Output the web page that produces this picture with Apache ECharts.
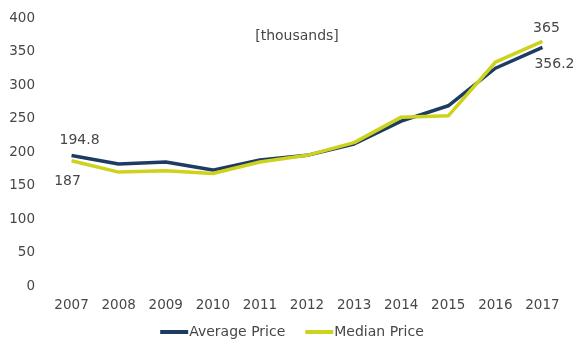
<!DOCTYPE html>
<html><head><meta charset="utf-8">
<script src="https://cdn.jsdelivr.net/npm/echarts@6/dist/echarts.min.js"></script>
<style>html,body{margin:0;padding:0;background:#fff}#c{width:584px;height:342px}</style>
</head><body><div id="c"></div>
<script>
const years = ['2007','2008','2009','2010','2011','2012','2013','2014','2015','2016','2017'];
const averagePrice = [194.8,182,185,173,188,195,212,246,269,325,356.2];
const medianPrice = [187,170,172,168,185,195,214,252,254,334,365];
const yTicks = [0,50,100,150,200,250,300,350,400];

const font = 'DejaVu Sans';
const txt = '#474747';
function mk(arr, first, last){
  return arr.map((v,i)=>{
    const cfg = i===0?first:(i===arr.length-1?last:null);
    if(cfg){
      return {value:v,label:{show:true,position:cfg.pos,formatter:String(v),color:txt,fontSize:14,fontFamily:font,
        distance:cfg.d,offset:cfg.off}};
    }
    return v;
  });
}
const chart = echarts.init(document.getElementById('c'));
chart.setOption({
  animation:false,
  title:{text:'[thousands]',left:292,top:24,textAlign:'center',textStyle:{fontSize:14,fontWeight:'normal',color:txt,fontFamily:font}},
  grid:{left:48,right:18,top:18,bottom:56},
  legend:{top:320,left:'center',icon:'rect',itemWidth:28,itemHeight:4,itemGap:20,
    textStyle:{fontSize:14,color:txt,fontFamily:font,padding:[0,0,0,-4]},
    data:['Average Price','Median Price']},
  xAxis:{type:'category',data:years,boundaryGap:true,
    axisLine:{show:false},axisTick:{show:false},
    axisLabel:{color:txt,fontSize:13.5,fontFamily:font,margin:12}},
  yAxis:{type:'value',min:0,max:400,interval:50,
    splitLine:{show:false},axisLine:{show:false},axisTick:{show:false},
    axisLabel:{color:txt,fontSize:13.5,fontFamily:font,margin:13,
      formatter:v=>yTicks.includes(v)?String(v):''}},
  series:[
    {name:'Average Price',type:'line',data:mk(averagePrice,{pos:'top',d:8,off:[8,0]},{pos:'bottom',d:8,off:[12,2]}),
      symbol:'circle',symbolSize:0.1,showSymbol:true,
      lineStyle:{width:3.5,color:'#1d3c63'},itemStyle:{color:'#1d3c63'}},
    {name:'Median Price',type:'line',data:mk(medianPrice,{pos:'bottom',d:8,off:[-4,6]},{pos:'top',d:6,off:[4,0]}),
      symbol:'circle',symbolSize:0.1,showSymbol:true,
      lineStyle:{width:3.5,color:'#cdd31c'},itemStyle:{color:'#cdd31c'}}
  ]
});
</script></body></html>
